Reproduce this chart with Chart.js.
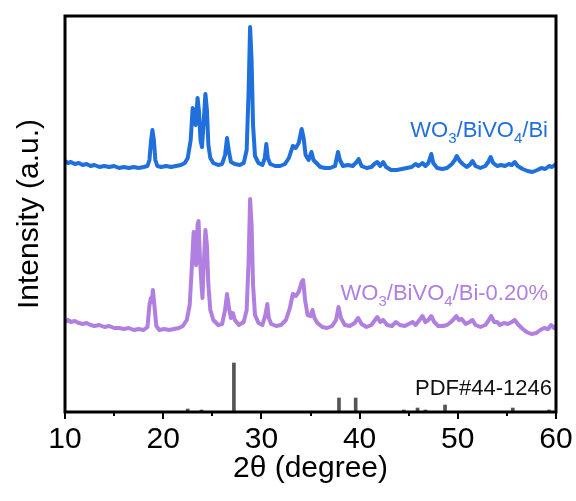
<!DOCTYPE html>
<html>
<head>
<meta charset="utf-8">
<script src="https://cdn.jsdelivr.net/npm/chart.js@4/dist/chart.umd.min.js"></script>
<style>
  html, body { margin: 0; padding: 0; background: #fff; }
  #wrap { width: 576px; height: 501px; }
</style>
</head>
<body>
<div id="wrap"><canvas id="xrd" width="576" height="501"></canvas></div>
<script>
// 2theta / intensity (a.u., stacked offsets)
const blueTheta = [10.0,10.3,10.6,11.0,11.4,11.8,12.2,12.6,13.0,13.5,14.0,14.5,15.0,15.5,16.0,16.5,17.0,17.5,18.0,18.4,18.6,18.75,18.9,19.05,19.2,19.4,19.8,20.3,20.8,21.3,21.8,22.2,22.5,22.8,23.0,23.15,23.3,23.5,23.65,23.8,23.95,24.1,24.3,24.45,24.6,24.8,25.1,25.6,26.0,26.3,26.5,26.7,26.9,27.3,27.8,28.2,28.5,28.7,28.85,29.0,29.15,29.35,29.7,30.1,30.35,30.5,30.65,30.9,31.4,31.9,32.4,32.8,33.2,33.5,33.8,34.1,34.3,34.5,34.8,35.1,35.3,35.6,36.0,36.5,37.0,37.5,37.8,38.0,38.3,38.8,39.3,39.7,39.9,40.2,40.7,41.2,41.5,41.8,42.1,42.4,42.7,43.2,43.8,44.3,44.8,45.3,45.7,46.0,46.4,46.7,47.0,47.3,47.5,47.9,48.4,48.9,49.4,49.7,49.9,50.2,50.5,50.9,51.2,51.5,51.8,52.3,52.8,53.1,53.35,53.6,54.0,54.4,54.8,55.2,55.5,55.8,56.1,56.6,57.1,57.6,58.1,58.5,58.9,59.3,59.6,60.0];
const blueInt = [251,249,250,248,249,247,248,246,247,245,246,245,246,244,245,244,245,244,245,246,252,270,282,272,252,246,245,246,245,246,247,249,254,272,304,297,287,314,300,272,265,287,318,302,267,254,249,247,248,257,274,260,250,248,247,249,262,322,385,352,287,256,249,247,254,268,254,248,246,246,248,254,266,264,269,283,274,257,252,260,252,249,245,244,244,246,260,252,246,247,246,250,253,246,244,245,248,250,246,250,245,242,242,243,244,245,248,246,249,246,249,258,249,244,243,244,248,252,256,251,248,245,247,251,246,244,246,250,255,249,246,247,246,248,247,250,246,243,241,240,242,244,243,246,245,248];

const purpleTheta = [10.0,10.3,10.6,11.0,11.4,11.8,12.2,12.6,13.0,13.5,14.0,14.5,15.0,15.5,16.0,16.5,17.0,17.5,18.0,18.4,18.6,18.75,18.85,18.95,19.1,19.3,19.6,20.1,20.6,21.1,21.6,22.0,22.4,22.7,22.9,23.1,23.25,23.35,23.5,23.6,23.75,23.9,24.0,24.15,24.3,24.45,24.6,24.8,25.1,25.6,26.0,26.3,26.5,26.7,26.9,27.1,27.3,27.7,28.2,28.5,28.7,28.85,29.0,29.15,29.35,29.7,30.1,30.4,30.6,30.75,31.0,31.5,32.0,32.5,32.9,33.2,33.5,33.8,34.1,34.25,34.45,34.7,35.0,35.2,35.4,35.7,36.2,36.7,37.2,37.6,37.85,38.1,38.5,39.0,39.5,39.85,40.2,40.7,41.2,41.5,41.8,42.1,42.4,42.8,43.3,43.7,44.1,44.6,45.0,45.4,45.7,46.1,46.4,46.7,47.0,47.3,47.6,48.0,48.5,48.9,49.3,49.6,49.85,50.1,50.4,50.8,51.2,51.5,51.8,52.3,52.8,53.1,53.4,53.7,54.0,54.3,54.7,55.1,55.5,55.8,56.1,56.5,57.0,57.5,58.0,58.4,58.8,59.2,59.5,59.8,60.0];
const purpleInt = [90,92,90,91,89,88,89,87,86,87,85,86,84,84,83,84,82,83,82,85,107,114,110,122,107,86,82,83,82,83,84,86,92,107,142,180,162,147,187,191,152,127,114,152,182,167,127,102,92,87,88,102,118,104,94,99,92,87,90,102,152,213,187,127,97,89,87,97,108,94,88,86,87,92,104,118,116,120,130,132,112,97,96,102,94,89,85,84,86,92,105,94,87,86,89,94,88,85,87,91,95,90,92,87,86,90,87,86,88,90,87,92,96,90,92,96,90,86,86,87,90,93,96,92,93,88,90,92,87,85,87,91,96,90,90,87,89,88,90,92,88,84,80,78,79,82,84,83,87,84,86];

// reference pattern PDF#44-1246
const refTheta = [22.5, 23.9, 27.2, 37.9, 39.6, 44.5, 45.9, 46.7, 48.7, 55.6, 59.3];
const refInt = [3, 2, 49, 14, 14, 2, 4, 2, 7, 4, 2];

const xTicks = [10, 20, 30, 40, 50, 60];

const blueColor = "#1f6fdc";
const purpleColor = "#b07fe0";
const stickColor = "#555555";
const FONT = "'Liberation Sans', Arial, sans-serif";

function pairs(xs, ys) {
    return xs.map((x, i) => ({ x: x, y: ys[i] }));
}

// text with subscripts, right aligned at xr
function drawLabel(ctx, parts, xr, baseline, size, color) {
    const subSize = Math.round(size * 0.68);
    let total = 0;
    parts.forEach(p => {
        ctx.font = (p.sub ? subSize : size) + "px " + FONT;
        total += ctx.measureText(p.t).width;
    });
    let x = xr - total;
    ctx.fillStyle = color;
    ctx.textAlign = "left";
    ctx.textBaseline = "alphabetic";
    parts.forEach(p => {
        ctx.font = (p.sub ? subSize : size) + "px " + FONT;
        ctx.fillText(p.t, x, baseline + (p.sub ? size * 0.25 : 0));
        x += ctx.measureText(p.t).width;
    });
}

const framePlugin = {
    id: "frame",
    afterDatasetsDraw(chart) {
        const ctx = chart.ctx;
        const a = chart.chartArea;
        const xs = chart.scales.x;
        ctx.save();
        // ticks on the bottom axis, outward
        ctx.strokeStyle = "#000";
        ctx.lineWidth = 2;
        for (let v = 10; v <= 60; v += 5) {
            const px = Math.round(xs.getPixelForValue(v));
            const len = v % 10 === 0 ? 7 : 4;
            ctx.beginPath();
            ctx.moveTo(px, a.bottom);
            ctx.lineTo(px, a.bottom + len);
            ctx.stroke();
        }
        ctx.lineWidth = 3;
        ctx.strokeRect(a.left, a.top, a.right - a.left, a.bottom - a.top);

        drawLabel(ctx, [{ t: "WO" }, { t: "3", sub: true }, { t: "/BiVO" }, { t: "4", sub: true }, { t: "/Bi" }],
            a.right - 8, 137, 22, blueColor);
        drawLabel(ctx, [{ t: "WO" }, { t: "3", sub: true }, { t: "/BiVO" }, { t: "4", sub: true }, { t: "/Bi-0.20%" }],
            a.right - 8, 300, 22, purpleColor);
        drawLabel(ctx, [{ t: "PDF#44-1246" }], a.right - 4, 395, 22, "#111");
        ctx.restore();
    }
};

const ctx = document.getElementById("xrd").getContext("2d");
const xrdChart = new Chart(ctx, {
    type: "line",
    data: {
        datasets: [
            {
                label: "WO3/BiVO4/Bi",
                data: pairs(blueTheta, blueInt),
                borderColor: blueColor,
                borderWidth: 4,
                borderJoinStyle: "round",
                pointRadius: 0,
                tension: 0
            },
            {
                label: "WO3/BiVO4/Bi-0.20%",
                data: pairs(purpleTheta, purpleInt),
                borderColor: purpleColor,
                borderWidth: 4,
                borderJoinStyle: "round",
                pointRadius: 0,
                tension: 0
            },
            {
                type: "bar",
                label: "PDF#44-1246",
                data: pairs(refTheta, refInt),
                backgroundColor: stickColor,
                barThickness: 3
            }
        ]
    },
    options: {
        responsive: false,
        animation: false,
        layout: { padding: { top: 16, right: 20, left: 0, bottom: 0 } },
        plugins: {
            legend: { display: false },
            tooltip: { enabled: false }
        },
        scales: {
            x: {
                type: "linear",
                min: 10,
                max: 60,
                offset: false,
                bounds: "ticks",
                afterFit(scale) {
                    scale.height = 89;
                    scale.paddingLeft = 0;
                    scale.paddingRight = 0;
                },
                afterBuildTicks(scale) {
                    scale.ticks = xTicks.map(v => ({ value: v }));
                },
                grid: { display: false, drawTicks: false, offset: false },
                border: { display: false },
                ticks: {
                    autoSkip: false,
                    maxRotation: 0,
                    padding: 10,
                    color: "#000",
                    font: { family: FONT, size: 30 }
                },
                title: {
                    display: true,
                    text: "2θ (degree)",
                    color: "#000",
                    font: { family: FONT, size: 30 },
                    padding: { top: 0, bottom: 14 }
                }
            },
            y: {
                min: 0,
                max: 396,
                afterFit(scale) { scale.width = 65; },
                grid: { display: false, drawTicks: false },
                border: { display: false },
                ticks: { display: false },
                title: {
                    display: true,
                    text: "Intensity (a.u.)",
                    color: "#000",
                    font: { family: FONT, size: 30 },
                    padding: { top: 12, bottom: 0 }
                }
            }
        }
    },
    plugins: [framePlugin]
});
</script>
</body>
</html>
